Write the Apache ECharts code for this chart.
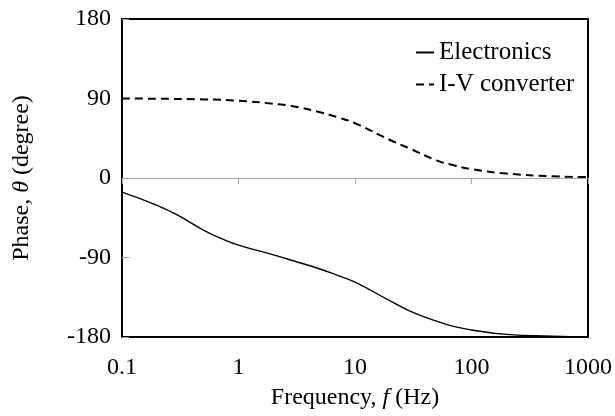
<!DOCTYPE html>
<html>
<head>
<meta charset="utf-8">
<script src="https://cdn.jsdelivr.net/npm/echarts@6/dist/echarts.min.js"></script>
<style>html,body{margin:0;padding:0;background:#fff;}#c{width:615px;height:416px;}</style>
</head>
<body>
<div id="c"></div>
<script>
var freqElectronics = [0.1, 0.2, 0.3, 0.5, 0.7, 1, 2, 3, 5, 7, 10, 20, 30, 50, 70, 100, 200, 500, 1000];
var phaseElectronics = [-16, -31, -42, -59, -68, -76, -87, -94, -103, -110, -118, -139, -151, -162, -168, -172, -177, -179, -180];
var freqIV = [0.1, 0.5, 1, 2, 3, 5, 7, 10, 20, 30, 50, 70, 100, 200, 500, 1000];
var phaseIV = [90, 89, 87.5, 84, 81, 74.5, 69, 62, 43, 33, 20, 14.5, 10, 5, 2, 1];
var xTicks = [0.1, 1, 10, 100, 1000];
var yTicks = [-180, -90, 0, 90, 180];

function pairs(xs, ys) { return xs.map(function (x, i) { return [x, ys[i]]; }); }

var font = '"Liberation Serif", "Times New Roman", serif';
var fs = 24;
var chart = echarts.init(document.getElementById('c'));
chart.setOption({
  animation: false,
  textStyle: { fontFamily: font },
  grid: { left: 122, right: 27, top: 19, bottom: 79, show: true, borderColor: '#000', borderWidth: 2, backgroundColor: 'transparent' },
  legend: {
    orient: 'vertical', left: 410, top: 35,
    itemWidth: 18, itemHeight: 14, itemGap: 7,
    itemStyle: { opacity: 0 },
    textStyle: { fontFamily: font, fontSize: 25, color: '#000' },
    data: ['Electronics', 'I-V converter']
  },
  xAxis: [{
    type: 'log', logBase: 10, min: xTicks[0], max: xTicks[xTicks.length - 1],
    position: 'bottom',
    axisLine: { onZero: false, lineStyle: { color: '#000', width: 2 } },
    axisTick: { show: false },
    splitLine: { show: false },
    axisLabel: { fontFamily: font, fontSize: fs, color: '#000', margin: 19,
      formatter: function (v) { return String(+(+v).toPrecision(3)); } },
    name: '{n|Frequency, }{i|f}{n| (Hz)}', nameLocation: 'middle', nameGap: 49,
    nameTextStyle: { rich: {
      n: { fontFamily: font, fontSize: fs, color: '#000' },
      i: { fontFamily: font, fontSize: fs, color: '#000', fontStyle: 'italic' } } }
  }, {
    type: 'log', logBase: 10, min: xTicks[0], max: xTicks[xTicks.length - 1],
    axisLine: { onZero: true, onZeroAxisIndex: 0, lineStyle: { color: '#a6a6a6', width: 1 } },
    axisTick: { show: true, inside: true, length: 6, lineStyle: { color: '#a6a6a6' } },
    axisLabel: { show: false },
    splitLine: { show: false }
  }],
  yAxis: {
    type: 'value', min: yTicks[0], max: yTicks[yTicks.length - 1], interval: 90,
    axisLine: { show: true, lineStyle: { color: '#000', width: 2 } },
    axisTick: { show: true, inside: true, length: 7, lineStyle: { color: '#a6a6a6' } },
    splitLine: { show: false },
    axisLabel: { fontFamily: font, fontSize: fs, color: '#000', margin: 11 },
    name: '{n|Phase, }{i|θ}{n| (degree)}', nameLocation: 'middle', nameGap: 88, nameRotate: 90,
    nameTextStyle: { rich: {
      n: { fontFamily: font, fontSize: fs, color: '#000' },
      i: { fontFamily: font, fontSize: fs, color: '#000', fontStyle: 'italic' } } }
  },
  series: [{
    name: 'Electronics', type: 'line', xAxisIndex: 0, smooth: true, symbol: 'none',
    lineStyle: { color: '#000', width: 1.4, type: 'solid' },
    itemStyle: { color: '#000' },
    data: pairs(freqElectronics, phaseElectronics)
  }, {
    name: 'I-V converter', type: 'line', xAxisIndex: 0, smooth: true, symbol: 'none',
    lineStyle: { color: '#000', width: 2, type: [8, 5] },
    itemStyle: { color: '#000' },
    data: pairs(freqIV, phaseIV)
  }]
});
</script>
</body>
</html>
